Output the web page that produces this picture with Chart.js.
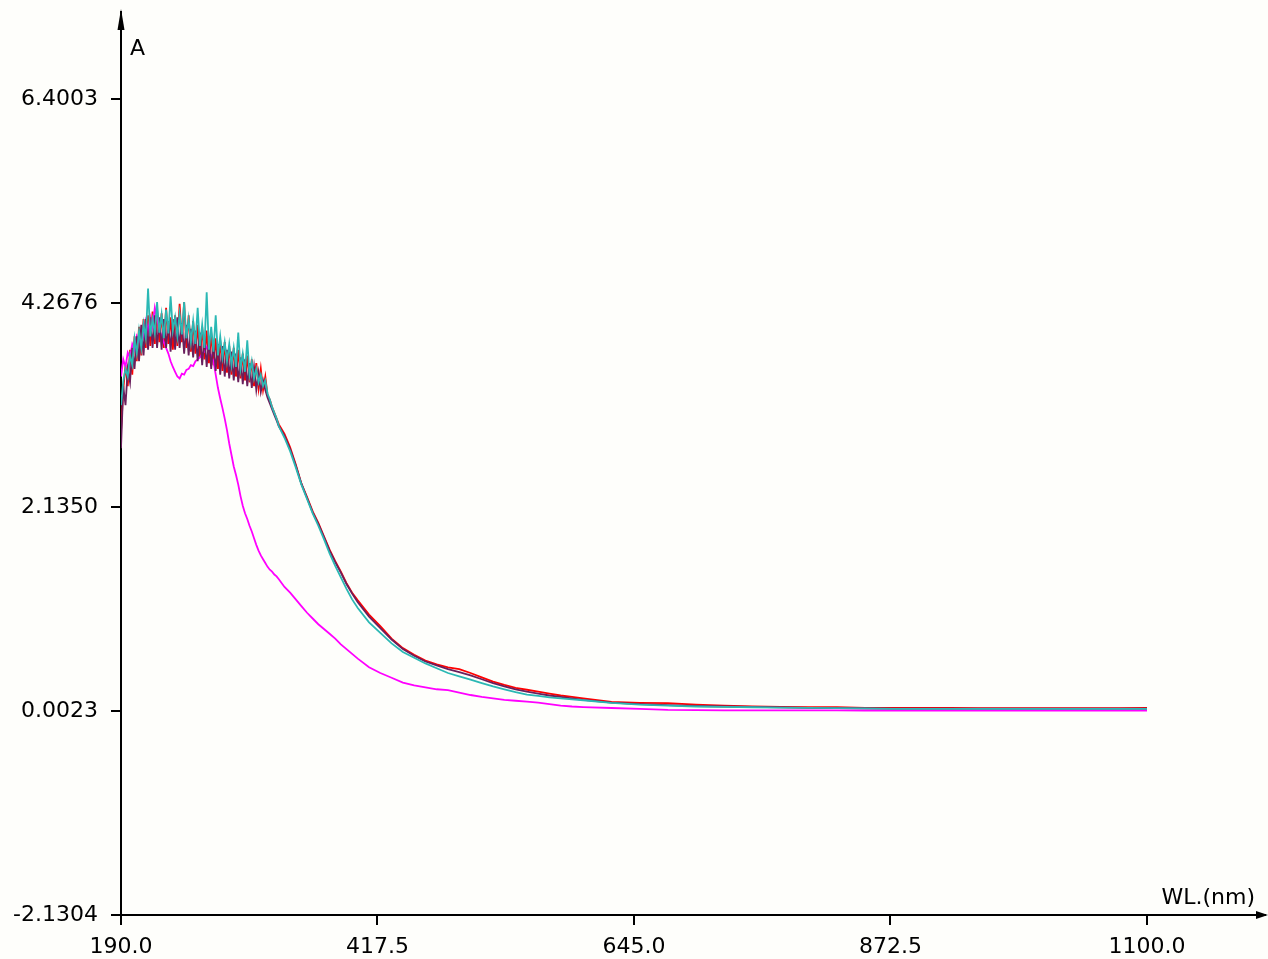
<!DOCTYPE html>
<html>
<head>
<meta charset="utf-8">
<title>Spectrum</title>
<script src="https://cdn.jsdelivr.net/npm/chart.js@4.4.1/dist/chart.umd.min.js"></script>
<style>
  html, body { margin: 0; padding: 0; background: #fefefb; }
  #wrap { width: 1268px; height: 959px; position: relative; }
</style>
</head>
<body>
<div id="wrap"><canvas id="spec"></canvas></div>
<script>
// wavelength grid (nm): 2 nm in the noisy band, then coarser
const wavelengths = [
  190,192,194,196,198,200,202,204,206,208,210,212,214,216,218,220,222,224,226,228,
  230,232,234,236,238,240,242,244,246,248,250,252,254,256,258,260,262,264,266,268,
  270,272,274,276,278,280,282,284,286,288,290,292,294,296,298,300,302,304,306,308,
  310,312,314,316,318,320,322,324,326,328,330,
  335,340,345,350,355,360,365,370,375,380,385,390,395,400,
  410,420,430,440,450,460,470,480,490,500,510,520,530,540,550,560,570,580,590,600,
  625,650,675,700,725,750,775,800,825,850,875,900,925,950,975,1000,1025,1050,1075,1100
];

const cyanA = [
  3.20,3.45,3.58,3.50,3.72,3.62,3.90,3.74,3.98,3.80,4.05,3.90,4.42,3.92,4.10,3.95,4.28,3.96,4.15,3.90,
  4.20,3.95,4.34,3.98,4.12,3.92,4.16,3.94,4.28,3.90,4.10,3.86,4.08,3.84,4.22,3.82,4.04,3.80,4.38,3.78,
  4.02,3.76,4.14,3.72,3.92,3.70,3.86,3.66,3.84,3.62,3.80,3.60,3.96,3.58,3.74,3.55,3.88,3.52,3.66,3.48,
  3.58,3.44,3.52,3.40,3.46,3.32,3.26,3.18,3.12,3.06,2.98,
  2.86,2.72,2.55,2.37,2.22,2.07,1.94,1.80,1.65,1.52,1.40,1.28,1.17,1.08,
  0.93,0.82,0.71,0.62,0.56,0.50,0.45,0.40,0.365,0.33,0.295,0.26,0.23,0.20,0.175,0.16,0.145,0.135,0.125,0.115,
  0.088,0.07,0.06,0.05,0.046,0.042,0.038,0.035,0.032,0.03,0.026,0.026,0.026,0.026,0.026,0.026,0.026,0.026,0.026,0.026
];

const darkA = [
  2.75,3.40,3.20,3.58,3.44,3.80,3.58,3.92,3.66,4.04,3.72,4.10,3.78,4.12,3.80,4.14,3.80,4.12,3.78,4.10,
  3.80,4.08,3.76,4.10,3.78,4.12,3.80,4.06,3.74,4.04,3.72,4.00,3.70,3.98,3.66,3.96,3.62,3.92,3.60,3.88,
  3.58,3.86,3.56,3.84,3.52,3.82,3.50,3.78,3.48,3.76,3.46,3.74,3.44,3.70,3.42,3.68,3.40,3.64,3.38,3.60,
  3.36,3.54,3.34,3.46,3.36,3.28,3.22,3.16,3.10,3.04,2.98,
  2.88,2.74,2.57,2.38,2.23,2.08,1.96,1.82,1.68,1.56,1.45,1.33,1.23,1.14,
  0.99,0.87,0.75,0.65,0.58,0.52,0.48,0.44,0.41,0.375,0.335,0.295,0.26,0.23,0.205,0.185,0.165,0.15,0.135,0.12,
  0.09,0.075,0.065,0.055,0.05,0.045,0.04,0.036,0.034,0.03,0.028,0.028,0.028,0.028,0.028,0.028,0.028,0.028,0.028,0.028
];

const magentaA = [
  3.50,3.68,3.60,3.75,3.70,3.84,3.78,3.92,3.86,4.00,3.92,4.08,3.98,4.12,4.02,4.22,4.10,4.00,3.92,3.86,
  3.80,3.74,3.66,3.60,3.55,3.50,3.48,3.53,3.52,3.57,3.58,3.62,3.61,3.66,3.68,3.70,3.74,3.76,3.81,3.76,
  3.72,3.66,3.52,3.38,3.27,3.17,3.06,2.94,2.80,2.68,2.56,2.47,2.37,2.25,2.15,2.07,2.01,1.94,1.88,1.81,
  1.74,1.68,1.63,1.59,1.55,1.51,1.48,1.46,1.43,1.41,1.38,
  1.30,1.24,1.17,1.10,1.03,0.97,0.91,0.86,0.81,0.76,0.70,0.65,0.60,0.55,
  0.46,0.40,0.35,0.30,0.27,0.25,0.23,0.22,0.195,0.17,0.15,0.135,0.12,0.11,0.10,0.09,0.075,0.06,0.05,0.044,
  0.034,0.025,0.015,0.012,0.01,0.01,0.01,0.009,0.009,0.008,0.008,0.008,0.008,0.008,0.008,0.008,0.008,0.008,0.008,0.008
];

const redA = [
  2.92,3.36,3.62,3.40,3.78,3.52,3.92,3.66,4.02,3.72,4.10,3.80,4.14,3.82,4.18,3.84,4.20,3.86,4.16,3.80,
  4.22,3.84,4.12,3.78,4.14,3.82,4.26,3.86,4.28,3.80,4.14,3.76,4.08,3.74,4.04,3.70,4.02,3.68,3.98,3.64,
  3.96,3.62,3.90,3.58,3.88,3.56,3.86,3.54,3.82,3.52,3.80,3.50,3.78,3.48,3.74,3.46,3.72,3.44,3.68,3.40,
  3.64,3.38,3.58,3.36,3.50,3.30,3.26,3.18,3.12,3.06,3.00,
  2.90,2.76,2.58,2.38,2.24,2.09,1.97,1.83,1.69,1.57,1.46,1.34,1.24,1.16,
  1.01,0.89,0.76,0.66,0.59,0.53,0.49,0.46,0.44,0.40,0.355,0.31,0.275,0.245,0.225,0.205,0.185,0.165,0.15,0.135,
  0.097,0.088,0.085,0.07,0.06,0.05,0.046,0.044,0.042,0.036,0.034,0.034,0.034,0.033,0.033,0.033,0.033,0.033,0.033,0.034
];

const xTickValues = [190, 417.5, 645, 872.5, 1100];
const xTickLabels = ["190.0", "417.5", "645.0", "872.5", "1100.0"];
const yTickValues = [-2.1304, 0.0023, 2.1350, 4.2676, 6.4003];
const yTickLabels = ["-2.1304", "0.0023", "2.1350", "4.2676", "6.4003"];

const FONT = "DejaVu Sans";

function pts(arr) {
  return wavelengths.map((w, i) => ({ x: w, y: arr[i] }));
}

function series(data, color) {
  return {
    data: pts(data),
    borderColor: color,
    borderWidth: 1.8,
    pointRadius: 0,
    fill: false,
    tension: 0
  };
}

// no automatic label padding, so the plot box sits exactly where we want it
function noPad(s) {
  s.paddingLeft = 0;
  s.paddingRight = 0;
  s.paddingTop = 0;
  s.paddingBottom = 0;
}

// arrows at the axis ends and the axis captions
const axisDecor = {
  id: "axisDecor",
  afterDraw(chart) {
    const ctx = chart.ctx;
    const a = chart.chartArea;
    ctx.save();
    ctx.fillStyle = "#000";
    ctx.beginPath();
    ctx.moveTo(a.left, a.top - 3);
    ctx.lineTo(a.left - 3.5, a.top + 18);
    ctx.lineTo(a.left + 3.5, a.top + 18);
    ctx.closePath();
    ctx.fill();
    ctx.beginPath();
    ctx.moveTo(a.right + 3, a.bottom);
    ctx.lineTo(a.right - 9, a.bottom - 4);
    ctx.lineTo(a.right - 9, a.bottom + 4);
    ctx.closePath();
    ctx.fill();

    ctx.fillStyle = "#000";
    ctx.font = "22px '" + FONT + "'";
    ctx.textBaseline = "middle";
    ctx.textAlign = "left";
    ctx.fillText("A", a.left + 9, 49);
    ctx.textAlign = "right";
    ctx.fillText("WL.(nm)", a.right - 10, a.bottom - 17);
    ctx.restore();
  }
};

new Chart(document.getElementById("spec"), {
  type: "line",
  data: {
    datasets: [
      series(cyanA, "#2bb8b4"),
      series(darkA, "#6a1f5c"),
      series(magentaA, "#ff00ff"),
      series(redA, "#ff0000")
    ]
  },
  options: {
    responsive: true,
    maintainAspectRatio: false,
    animation: false,
    events: [],
    layout: { padding: { top: 12, right: 3, left: 0, bottom: 0 } },
    plugins: { legend: { display: false }, tooltip: { enabled: false } },
    scales: {
      x: {
        type: "linear",
        min: 190,
        max: 1204.66,
        afterFit: s => { s.height = 44; noPad(s); },
        afterBuildTicks: s => { s.ticks = xTickValues.map(v => ({ value: v })); },
        grid: { drawOnChartArea: false, drawTicks: true, tickLength: 10, color: "#000", lineWidth: 2 },
        border: { display: true, color: "#000", width: 2 },
        ticks: {
          color: "#000",
          padding: 9,
          maxRotation: 0,
          autoSkip: false,
          font: { family: FONT, size: 22 },
          callback: (v, i) => xTickLabels[i]
        }
      },
      y: {
        type: "linear",
        min: -2.1304,
        max: 7.312,
        afterFit: s => { s.width = 121; noPad(s); },
        afterBuildTicks: s => { s.ticks = yTickValues.map(v => ({ value: v })); },
        grid: { drawOnChartArea: false, drawTicks: true, tickLength: 10, color: "#000", lineWidth: 2 },
        border: { display: true, color: "#000", width: 2 },
        ticks: {
          color: "#000",
          padding: 13,
          autoSkip: false,
          font: { family: FONT, size: 22 },
          callback: (v, i) => yTickLabels[i]
        }
      }
    }
  },
  plugins: [axisDecor]
});
</script>
</body>
</html>
